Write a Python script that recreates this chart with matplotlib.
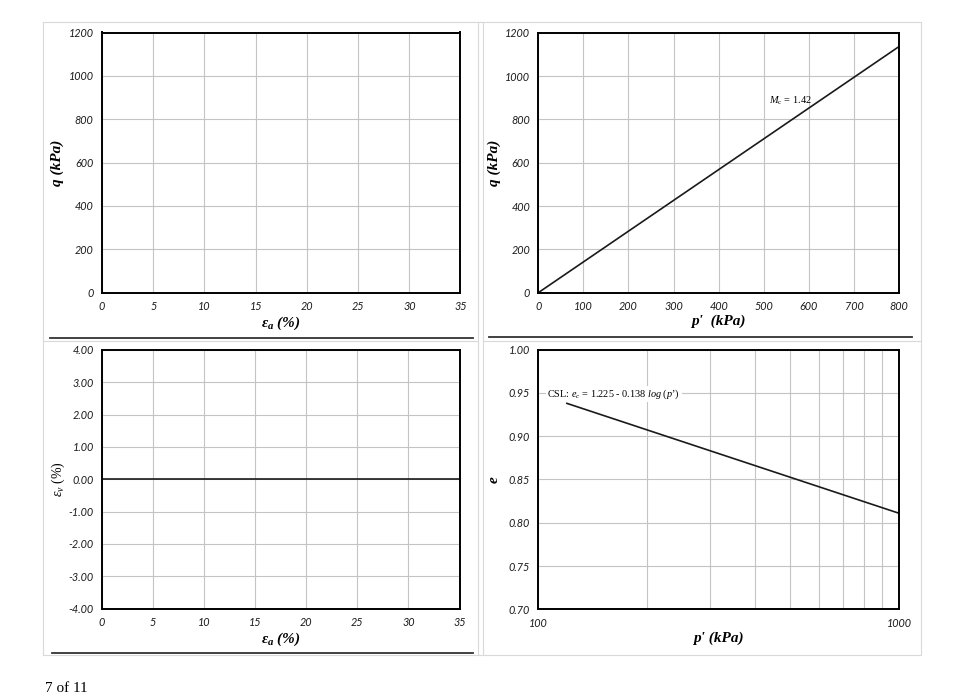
import numpy as np
import matplotlib.pyplot as plt
from matplotlib.ticker import NullFormatter, LogLocator

plt.rcParams['mathtext.fontset'] = 'custom'
plt.rcParams['mathtext.rm'] = 'Liberation Serif'
plt.rcParams['mathtext.it'] = 'Liberation Serif:italic'
plt.rcParams['mathtext.bf'] = 'Liberation Serif:bold:italic'

# stress-strain (no data, only axes)
ea_ticks = [0, 5, 10, 15, 20, 25, 30, 35]
q_ticks = [0, 200, 400, 600, 800, 1000, 1200]

# q - p' critical state line
p_csl = [0, 800]
q_csl = [0, 1136]
p_ticks = [0, 100, 200, 300, 400, 500, 600, 700, 800]

# volumetric strain
ea_line = [0, 35]
ev_line = [0.0, 0.0]
ev_ticks = [-4, -3, -2, -1, 0, 1, 2, 3, 4]

# e - log p'
p_log = [120, 1000]
e_log = [0.938, 0.811]
e_ticks = [0.70, 0.75, 0.80, 0.85, 0.90, 0.95, 1.00]

W, H = 978, 699
fig = plt.figure(figsize=(W / 100, H / 100), dpi=100)
fig.patch.set_facecolor('white')

# page decorations
bg = fig.add_axes([0, 0, 1, 1], zorder=-5)
bg.set_xlim(0, W)
bg.set_ylim(H, 0)
bg.axis('off')
frame = '#d9d9d9'
bg.plot([43, 921, 921, 43, 43], [22, 22, 655, 655, 22], color=frame, lw=0.8)
bg.plot([478, 478], [22, 655], color=frame, lw=0.8)
bg.plot([483, 483], [22, 655], color=frame, lw=0.8)
bg.plot([43, 478], [341, 341], color=frame, lw=0.8)
bg.plot([483, 921], [341, 341], color=frame, lw=0.8)
bg.plot([50, 473], [338, 338], color='#333333', lw=1.3)
bg.plot([489, 912], [337, 337], color='#333333', lw=1.3)
bg.plot([52, 473], [653, 653], color='#333333', lw=1.3)
bg.text(45, 688, '7 of 11', fontsize=11, family='Liberation Serif', va='center')


def make_axes(l, r, t, b):
    ax = fig.add_axes([l / W, 1 - b / H, (r - l) / W, (b - t) / H])
    for s in ax.spines.values():
        s.set_linewidth(1.4)
        s.set_color('black')
    ax.grid(True, color='#c4c4c4', lw=0.8)
    ax.set_axisbelow(True)
    ax.tick_params(length=0, labelsize=7.8, labelcolor='#1a1a1a', pad=6)
    return ax


def style_ticks(ax):
    for lab in ax.get_xticklabels() + ax.get_yticklabels():
        lab.set_fontstyle('italic')
        lab.set_fontfamily('Lato')


lab_kw = dict(fontsize=11)
txt_kw = dict(fontsize=11, family='Liberation Serif', style='italic', weight='bold')

# top left
ax1 = make_axes(102, 460.5, 32.5, 292.7)
ax1.set_xlim(0, 35)
ax1.set_ylim(0, 1200)
ax1.set_xticks(ea_ticks)
ax1.set_yticks(q_ticks)
ax1.set_xlabel(r'$\mathbf{\varepsilon_a\ (\%)}$', labelpad=2, **lab_kw)
ax1.set_ylabel('q (kPa)', labelpad=3, **txt_kw)
style_ticks(ax1)

# top right
ax2 = make_axes(538.3, 899, 32.7, 292.7)
ax2.plot(p_csl, q_csl, color='#1a1a1a', lw=1.2)
ax2.set_xlim(0, 800)
ax2.set_ylim(0, 1200)
ax2.set_xticks(p_ticks)
ax2.set_yticks(q_ticks)
ax2.set_xlabel("p'  (kPa)", labelpad=2, **txt_kw)
ax2.set_ylabel('q (kPa)', labelpad=3, **txt_kw)
ax2.text(512, 885, r'$M_{\mathrm{c}}$ = 1.42', fontsize=7.5,
         family='Liberation Serif', va='center')
style_ticks(ax2)

# bottom left
ax3 = make_axes(102, 459.5, 350, 608.5)
ax3.plot(ea_line, ev_line, color='#1a1a1a', lw=1.2)
ax3.set_xlim(0, 35)
ax3.set_ylim(-4, 4)
ax3.set_xticks(ea_ticks)
ax3.set_yticks(ev_ticks)
ax3.set_yticklabels([f'{v:.2f}' for v in ev_ticks])
ax3.set_xlabel(r'$\mathbf{\varepsilon_a\ (\%)}$', labelpad=2, **lab_kw)
ax3.set_ylabel(r'$\varepsilon_v\ (\%)$', labelpad=1, fontsize=10)
style_ticks(ax3)

# bottom right
ax4 = make_axes(538.3, 899, 349.7, 609.3)
ax4.plot(p_log, e_log, color='#1a1a1a', lw=1.2)
ax4.set_xscale('log')
ax4.set_xlim(100, 1000)
ax4.set_ylim(0.70, 1.00)
ax4.set_xticks([100, 1000])
ax4.set_xticklabels(['100', '1000'])
ax4.xaxis.set_minor_locator(LogLocator(subs=np.arange(2, 10)))
ax4.xaxis.set_minor_formatter(NullFormatter())
ax4.tick_params(which='minor', length=0)
ax4.grid(True, which='both', axis='x', color='#c4c4c4', lw=0.8)
ax4.set_yticks(e_ticks)
ax4.set_yticklabels([f'{v:.2f}' for v in e_ticks])
ax4.set_xlabel("p' (kPa)", labelpad=2, **txt_kw)
ax4.set_ylabel('e', labelpad=6, **txt_kw)
ax4.text(106, 0.9488, "CSL: $e_c$ = 1.225 - 0.138 $log$ $(p\u2019)$", fontsize=7.4,
         family='Liberation Serif', va='center',
         bbox=dict(facecolor='white', edgecolor='none', pad=1))
style_ticks(ax4)

fig.savefig('out.png', dpi=100)
